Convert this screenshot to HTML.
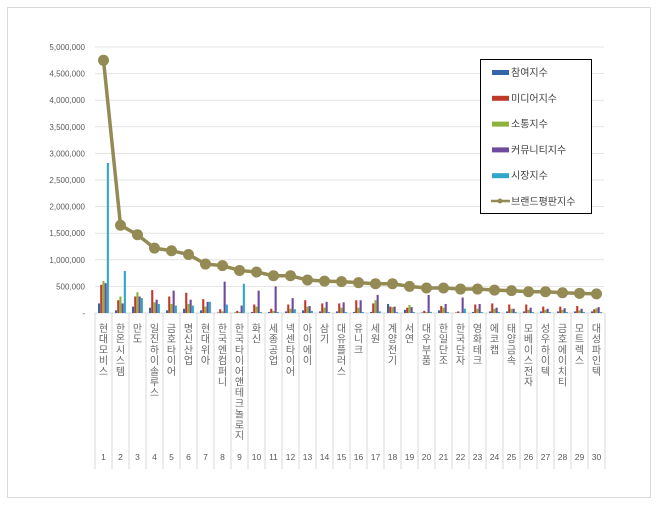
<!DOCTYPE html>
<html><head><meta charset="utf-8"><style>
body{margin:0;background:#fff;}
svg text{font-family:"Liberation Sans","Noto Sans CJK KR",sans-serif;}
</style></head><body>
<svg id="c" width="660" height="504" xmlns="http://www.w3.org/2000/svg"></svg>
<script>
const s=document.getElementById('c');let h='';
h+='<rect x="7.5" y="7.5" width="643" height="490" fill="#fff" stroke="#d9d9d9"/>';
const X0=95,W=17,Y0=313,K=53.2;
for(let i=0;i<=10;i++){const v=i*0.5,y=Y0-v*K;
 if(i>0)h+=`<line x1="${X0}" x2="604" y1="${y}" y2="${y}" stroke="#e3e3e3"/>`;
 const t=i==0?'-':(v*1e6).toLocaleString('en-US');
 h+=`<text x="85" y="${y+3}" font-size="8" fill="#595959" text-anchor="end">${t}</text>`;}
h+=`<line x1="${X0}" x2="604" y1="${Y0}" y2="${Y0}" stroke="#d9d9d9"/>`;
for(let i=0;i<=30;i++){const x=X0+i*W;h+=`<line x1="${x}" x2="${x}" y1="${Y0}" y2="469" stroke="#d9d9d9"/>`;}
const names=["현대모비스","한온시스템","만도","일진하이솔루스","금호타이어","명신산업","현대위아","한국엔컴퍼니","한국타이어앤테크놀로지","화신","세종공업","넥센타이어","아이에이","삼기","대유플러스","유니크","세원","계양전기","서연","대우부품","한일단조","한국단자","영화테크","에코캡","태양금속","모베이스전자","성우하이텍","금호에이치티","모트렉스","대성파인텍"];
const bars=[[180,530,600,560,2820],[50,240,310,180,790],[120,310,390,310,280],[100,430,200,250,170],[50,310,170,420,140],[80,380,170,250,140],[50,260,120,210,210],[10,70,30,590,160],[10,40,20,140,550],[20,160,120,420,20],[20,80,40,500,20],[30,160,80,280,70],[50,240,120,130,40],[30,180,100,210,20],
[30,180,100,200,20],[20,240,100,240,20],[20,180,240,340,30],[170,120,110,120,20],[60,100,150,110,20],[10,40,20,340,20],[50,130,100,170,20],[10,30,10,290,80],[20,160,80,170,20],[30,180,80,100,20],[30,160,80,80,20],[30,160,60,100,20],[30,120,60,80,20],[30,120,60,90,20],[30,130,50,80,20],[30,70,90,110,20]];
const col=["#3366a8","#c0392b","#8db33a","#6f4a9c","#2fa8c8"];
bars.forEach((b,i)=>{const cx=X0+i*W+W/2;b.forEach((v,j)=>{const hh=v/1000*K;h+=`<rect x="${cx-5.5+j*2.2}" y="${Y0-hh}" width="2.1" height="${hh}" fill="${col[j]}"/>`;});});
const L=[4.75,1.65,1.47,1.22,1.17,1.1,0.92,0.89,0.8,0.77,0.7,0.7,0.62,0.6,0.59,0.57,0.55,0.55,0.5,0.47,0.47,0.45,0.45,0.43,0.42,0.4,0.4,0.38,0.37,0.36];
let p=L.map((v,i)=>`${X0+i*W+W/2},${Y0-v*K}`).join(' ');
h+=`<polyline points="${p}" fill="none" stroke="#948a54" stroke-width="3.5"/>`;
L.forEach((v,i)=>{h+=`<circle cx="${X0+i*W+W/2}" cy="${Y0-v*K}" r="5.5" fill="#948a54"/>`;});
names.forEach((n,i)=>{const cx=X0+i*W+W/2;[...n].forEach((ch,k)=>{h+=`<text x="${cx}" y="${332+k*10.7}" font-size="10" fill="#666" text-anchor="middle">${ch}</text>`;});
 h+=`<text x="${cx}" y="460" font-size="8.5" fill="#595959" text-anchor="middle">${i+1}</text>`;});
h+='<rect x="480.5" y="59.5" width="111" height="154" fill="#fff" stroke="#000"/>';
const lg=["참여지수","미디어지수","소통지수","커뮤니티지수","시장지수","브랜드평판지수"];
lg.forEach((t,i)=>{const y=72+i*25.8;
 if(i<5)h+=`<rect x="492" y="${y-2}" width="17" height="5" fill="${col[i]}"/>`;
 else{h+=`<line x1="491" x2="510" y1="${y}" y2="${y}" stroke="#948a54" stroke-width="2.5"/><circle cx="500" cy="${y}" r="2.5" fill="#948a54"/>`;}
 h+=`<text x="511" y="${y+4}" font-size="10" fill="#404040">${t}</text>`;});
s.innerHTML=h;
</script>
</body></html>
